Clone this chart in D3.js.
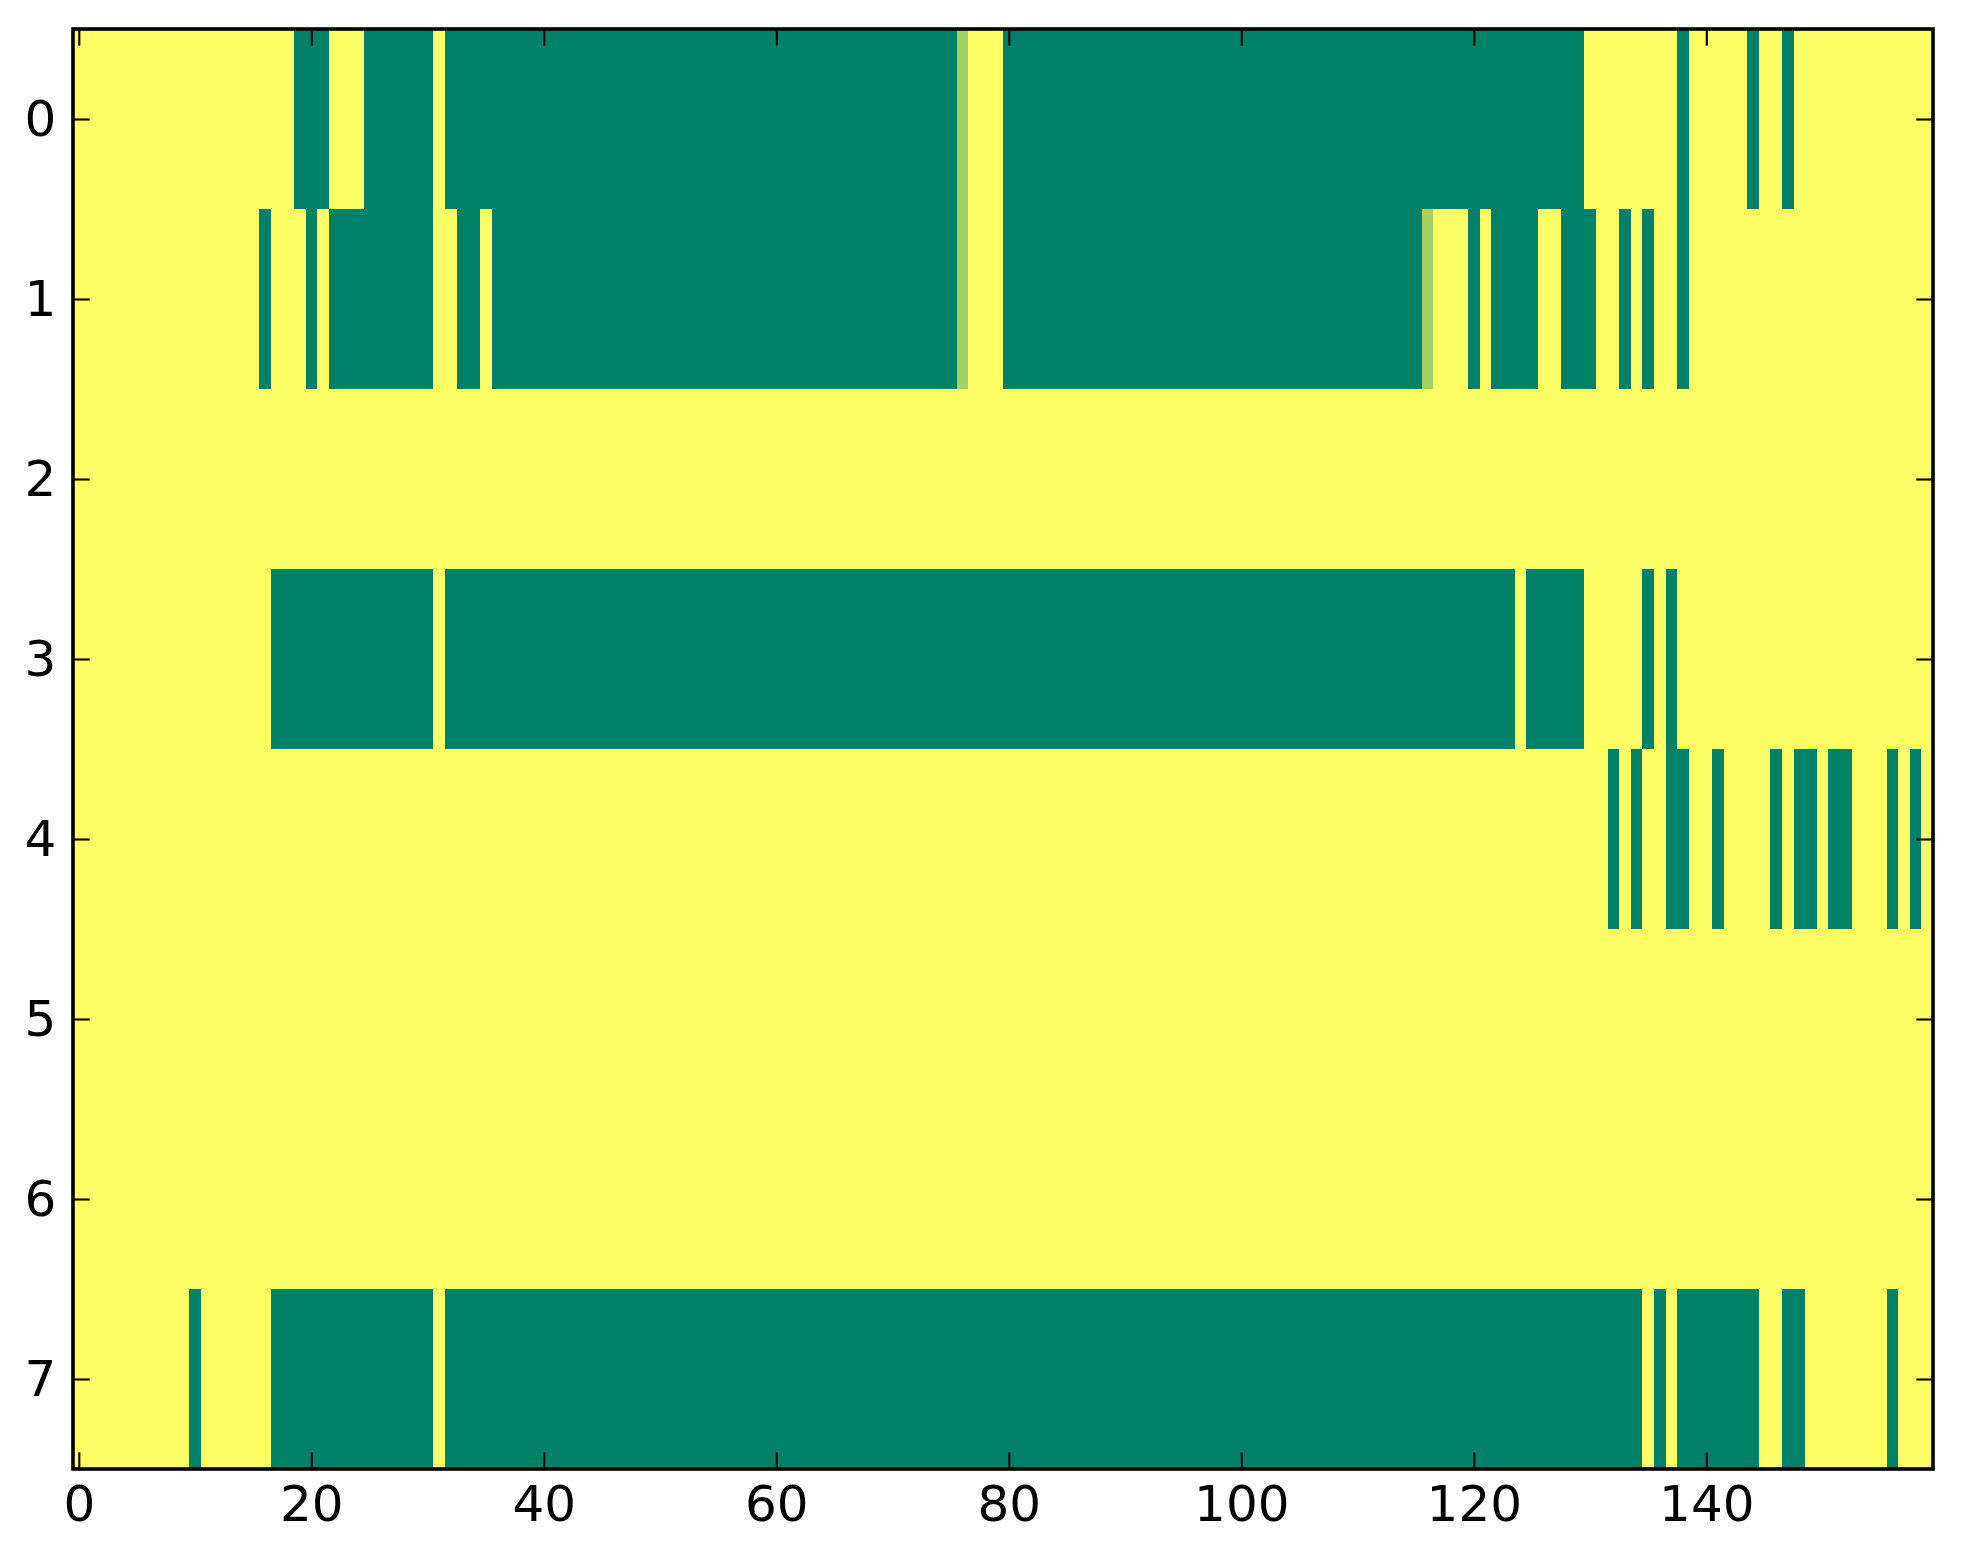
<!DOCTYPE html>
<html>
<head>
<meta charset="utf-8">
<script src="https://cdn.jsdelivr.net/npm/d3@7"></script>
<style>
  html, body { margin: 0; padding: 0; background: #ffffff; }
  svg { display: block; }
  text { font-family: "DejaVu Sans", sans-serif; }
</style>
</head>
<body>
<script>
// ---- data (run-length: [value, count]); 1 = yellow, 0 = green ----
const nCols = 160;
const rowLabels = [0, 1, 2, 3, 4, 5, 6, 7];
const xTickValues = [0, 20, 40, 60, 80, 100, 120, 140];
const yTickValues = [0, 1, 2, 3, 4, 5, 6, 7];

const row0 = [[1,19],[0,3],[1,3],[0,6],[1,1],[0,44],[0.64,1],[1,3],[0,50],[1,8],[0,1],[1,5],[0,1],[1,2],[0,1],[1,12]];
const row1 = [[1,16],[0,1],[1,3],[0,1],[1,1],[0,9],[1,2],[0,2],[1,1],[0,40],[0.64,1],[1,3],[0,36],[0.64,1],[1,3],[0,1],[1,1],[0,4],[1,2],[0,3],[1,2],[0,1],[1,1],[0,1],[1,2],[0,1],[1,21]];
const row2 = [[1,160]];
const row3 = [[1,17],[0,14],[1,1],[0,92],[1,1],[0,5],[1,5],[0,1],[1,1],[0,1],[1,22]];
const row4 = [[1,132],[0,1],[1,1],[0,1],[1,2],[0,2],[1,2],[0,1],[1,4],[0,1],[1,1],[0,2],[1,1],[0,2],[1,3],[0,1],[1,1],[0,1],[1,1]];
const row5 = [[1,160]];
const row6 = [[1,160]];
const row7 = [[1,10],[0,1],[1,6],[0,14],[1,1],[0,103],[1,1],[0,1],[1,1],[0,7],[1,2],[0,2],[1,7],[0,1],[1,3]];

const rowRuns = [row0, row1, row2, row3, row4, row5, row6, row7];

(function () {
  // expand runs into cells
  const cells = [];
  rowRuns.forEach((runs, r) => {
    let c = 0;
    runs.forEach(([v, n]) => {
      for (let k = 0; k < n; k++) { cells.push({row: rowLabels[r], col: c, v: v}); c++; }
    });
  });

  // ---- layout ----
  const W = 1963, H = 1564;
  const pLeft = 73, pRight = 1933, pTop = 29, pBottom = 1469;

  const x = d3.scaleLinear().domain([-0.5, nCols - 0.5]).range([pLeft, pRight]);
  const y = d3.scaleLinear().domain([-0.5, rowLabels.length - 0.5]).range([pTop, pBottom]);
  // matplotlib "summer" colormap
  const color = d3.scaleLinear().domain([0, 1]).range(["#008066", "#ffff66"]);

  const svg = d3.select("body").append("svg").attr("width", W).attr("height", H);

  svg.append("g").attr("shape-rendering", "crispEdges")
    .selectAll("rect").data(cells).join("rect")
    .attr("x", d => x(d.col - 0.5))
    .attr("y", d => y(d.row - 0.5))
    .attr("width", d => x(d.col + 0.5) - x(d.col - 0.5) + 0.4)
    .attr("height", d => y(d.row + 0.5) - y(d.row - 0.5))
    .attr("fill", d => color(d.v));

  const tickLen = 16.7, tickPad = 16.7, fontSize = 50;

  function styleAxis(g, showText) {
    g.select(".domain").remove();
    g.selectAll(".tick line").attr("stroke", "#000").attr("stroke-width", 2.1);
    g.selectAll(".tick text").attr("font-size", fontSize).attr("fill", "#000")
      .attr("font-family", "DejaVu Sans, sans-serif");
    if (!showText) g.selectAll(".tick text").remove();
  }

  svg.append("g").attr("transform", `translate(0,${pBottom})`)
    .call(d3.axisBottom(x).tickValues(xTickValues).tickFormat(d3.format("d")).tickSizeInner(-tickLen).tickSizeOuter(0).tickPadding(tickPad))
    .call(g => styleAxis(g, true));
  svg.append("g").attr("transform", `translate(0,${pTop})`)
    .call(d3.axisTop(x).tickValues(xTickValues).tickSizeInner(-tickLen).tickSizeOuter(0))
    .call(g => styleAxis(g, false));
  svg.append("g").attr("transform", `translate(${pLeft},0)`)
    .call(d3.axisLeft(y).tickValues(yTickValues).tickFormat(d3.format("d")).tickSizeInner(-tickLen).tickSizeOuter(0).tickPadding(tickPad))
    .call(g => styleAxis(g, true));
  svg.append("g").attr("transform", `translate(${pRight},0)`)
    .call(d3.axisRight(y).tickValues(yTickValues).tickSizeInner(-tickLen).tickSizeOuter(0))
    .call(g => styleAxis(g, false));

  // frame
  svg.append("rect")
    .attr("x", pLeft).attr("y", pTop)
    .attr("width", pRight - pLeft).attr("height", pBottom - pTop)
    .attr("fill", "none").attr("stroke", "#000").attr("stroke-width", 3.6);
})();
</script>
</body>
</html>
